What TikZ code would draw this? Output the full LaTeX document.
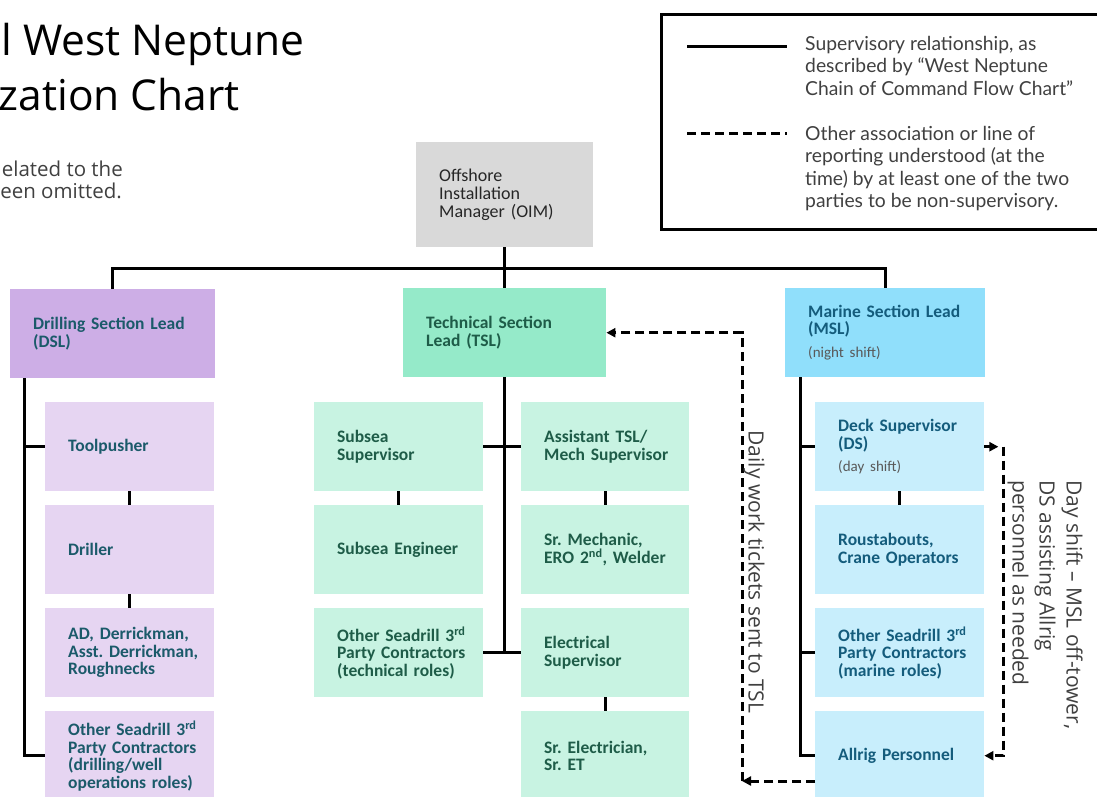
\documentclass[tikz,border=0pt]{standalone}
\usepackage{fontspec}
\setmainfont{Carlito}
\newfontfamily\latofont{Lato}
\newfontfamily\osfont{Open Sans}
\usetikzlibrary{arrows.meta}
\definecolor{oimgray}{HTML}{D9D9D9}
\definecolor{dlead}{HTML}{CDAEE6}
\definecolor{dsub}{HTML}{E6D5F2}
\definecolor{tlead}{HTML}{95EAC9}
\definecolor{tsub}{HTML}{C8F3E2}
\definecolor{mlead}{HTML}{90DFFB}
\definecolor{msub}{HTML}{C8EEFC}
\definecolor{dtext}{HTML}{1B5A6A}
\definecolor{ttext}{HTML}{1E5C48}
\definecolor{mtext}{HTML}{145C7C}
\definecolor{greytext}{HTML}{404040}
\definecolor{nightgray}{HTML}{595959}
\newcommand\nohyph{\hyphenpenalty=10000 \exhyphenpenalty=10000 \hbadness=10000 \hfuzz=100pt }
\newcommand\bxfont{\fontsize{17.5}{17.5}\selectfont\bfseries\nohyph}
\newcommand\smlnote[1]{{\mdseries\fontsize{15}{15}\selectfont\color{nightgray}#1}}
\begin{document}
\begin{tikzpicture}[x=1pt,y=-1pt,
  basebox/.style={rectangle, inner sep=0pt, anchor=north west, align=left, font=\bxfont},
  oimbox/.style={basebox, fill=oimgray, text=black!85, font=\fontsize{18}{18}\selectfont\nohyph,
     minimum width=177pt, minimum height=105pt, text width=131pt},
  dleadbox/.style={basebox, fill=dlead, text=dtext, minimum width=205pt, minimum height=89pt, text width=159pt},
  tleadbox/.style={basebox, fill=tlead, text=ttext, minimum width=203pt, minimum height=89pt, text width=157pt},
  mleadbox/.style={basebox, fill=mlead, text=mtext, minimum width=200pt, minimum height=89pt, text width=154pt},
  dsubbox/.style={basebox, fill=dsub, text=dtext, minimum width=169pt, minimum height=89pt, text width=123pt},
  tsubbox/.style={basebox, fill=tsub, text=ttext, minimum width=169pt, minimum height=89pt, text width=123pt},
  trsubbox/.style={basebox, fill=tsub, text=ttext, minimum width=168pt, minimum height=89pt, text width=122pt},
  msubbox/.style={basebox, fill=msub, text=mtext, minimum width=169pt, minimum height=89pt, text width=123pt},
  conn/.style={line width=3pt},
  dl/.style={line width=3pt, dash pattern=on 9pt off 5pt},
  tip/.style={-{Triangle[length=9pt,width=9pt]}},
  titletext/.style={font=\osfont\fontsize{42.5}{42.5}\selectfont, text=black, inner sep=0pt},
  subtext/.style={font=\osfont\fontsize{20.5}{20.5}\selectfont, text=greytext, inner sep=0pt},
  legtext/.style={font=\latofont\fontsize{19.3}{22.4}\selectfont, text=greytext, inner sep=0pt, align=left, anchor=north west},
  rottext/.style={font=\osfont\fontsize{21}{27}\selectfont, text=greytext, inner sep=0pt, rotate=-90}
]
\clip (0,0) rectangle (1097,796);

% title
\node[titletext, anchor=base east] (t1) at (305,55) {l West Neptune};
\node[titletext, anchor=base east] (t2) at (240,110) {zation Chart};
\node[subtext, anchor=base east] (s1) at (123,176) {elated to the};
\node[subtext, anchor=base east] (s2) at (122,198) {been omitted.};

% legend
\node[draw, line width=3pt, minimum width=450pt, minimum height=215pt, anchor=north west, inner sep=0pt] (legend) at (660,13) {};
\coordinate (la1) at (687,46); \coordinate (la2) at (787,46);
\draw[conn] (la1) -- (la2);
\coordinate (lb1) at (687,133); \coordinate (lb2) at (787,133);
\draw[dl] (lb1) -- (lb2);
\node[legtext] (lt1) at (805,36) {Supervisory relationship, as\\described by “West Neptune\\Chain of Command Flow Chart”};
\node[legtext] (lt2) at (805,126) {Other association or line of\\reporting understood (at the\\time) by at least one of the two\\parties to be non-supervisory.};

% top level
\node[oimbox] (oim) at (416,142) {Offshore\\Installation\\Manager~(OIM)};
\node[dleadbox] (dsl) at (10,289) {Drilling~Section~Lead\\(DSL)};
\node[tleadbox] (tsl) at (403,288) {Technical~Section\\Lead~(TSL)};
\node[mleadbox] (msl) at (785,288) {Marine~Section~Lead\\(MSL)\\[5.5pt]\smlnote{(night~shift)}};

% drilling
\node[dsubbox] (tp) at (45,402) {Toolpusher};
\node[dsubbox] (dr) at (45,505) {Driller};
\node[dsubbox] (ad) at (45,608) {AD,~Derrickman,\\Asst.~Derrickman,\\Roughnecks};
\node[dsubbox] (od) at (45,711) {Other~Seadrill~3\textsuperscript{rd}\\Party~Contractors\\(drilling/well\\operations~roles)};

% technical
\node[tsubbox] (ss) at (314,402) {Subsea\\Supervisor};
\node[tsubbox] (se) at (314,505) {Subsea~Engineer};
\node[tsubbox] (ot) at (314,608) {Other~Seadrill~3\textsuperscript{rd}\\Party~Contractors\\(technical~roles)};
\node[trsubbox] (at) at (521,402) {Assistant~TSL/\\Mech~Supervisor};
\node[trsubbox] (sm) at (521,505) {Sr.~Mechanic,\\[1pt]ERO~2\textsuperscript{nd},~Welder};
\node[trsubbox] (es) at (521,608) {Electrical\\Supervisor};
\node[trsubbox] (sre) at (521,711) {Sr.~Electrician,\\Sr.~ET};

% marine
\node[msubbox] (ds) at (815,402) {Deck~Supervisor\\(DS)\\[5pt]\smlnote{(day~shift)}};
\node[msubbox] (ro) at (815,505) {Roustabouts,\\Crane~Operators};
\node[msubbox] (om) at (815,608) {Other~Seadrill~3\textsuperscript{rd}\\Party~Contractors\\(marine~roles)};
\node[msubbox] (ar) at (815,711) {Allrig~Personnel};

% top connectors
\draw[conn] (oim.south) -- (tsl.north);
\draw[conn] (dsl.north) -- ++(0,-21) -| (msl.north);

% drilling connectors
\coordinate (dsp) at (24,0);
\draw[conn] (dsl.south -| dsp) |- (od.west);
\draw[conn] (dsp |- tp.west) -- (tp.west);
\draw[conn] (tp) -- (dr);
\draw[conn] (dr) -- (ad);

% technical connectors
\draw[conn] (tsl.south) -- (tsl.south |- es.west);
\draw[conn] (ss.east) -- (at.west);
\draw[conn] (ot.east) -- (es.west);
\draw[conn] (ss) -- (se);
\draw[conn] (at) -- (sm);
\draw[conn] (es) -- (sre);

% marine connectors
\coordinate (msp) at (800,0);
\draw[conn] (msl.south -| msp) |- (ar.west);
\draw[conn] (msp |- ds.west) -- (ds.west);
\draw[conn] (msp |- om.west) -- (om.west);
\draw[conn] (ds) -- (ro);

% dashed associations
\coordinate (c1) at (742,781);
\draw[dl, tip] (ar.west |- c1) -- (c1);
\draw[dl, tip] (c1) |- (tsl.east);
\coordinate (c2) at (1003,0);
\draw[dl, tip] (ds.east) -- ++(14,0);
\draw[dl, tip] (ds.east -| c2) |- (ar.east);

% rotated labels
\node[rottext] (daily) at (754,572) {Daily work tickets sent to TSL};
\node[rottext, anchor=north west, align=left] (dayshift) at (1083,480) {Day shift – MSL off-tower,\\DS assisting Allrig\\personnel as needed};
\end{tikzpicture}
\end{document}
